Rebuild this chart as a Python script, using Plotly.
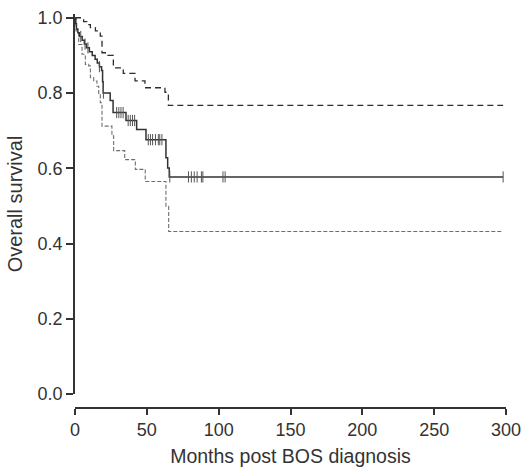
import numpy as np
import plotly.graph_objects as go

# Kaplan-Meier estimate (solid)
solid_t = [0, 0.5, 1, 2, 3, 5, 6.5, 8, 10, 12, 14, 15.5, 17, 18.5, 19.2, 19.6, 24.5, 26.5, 35.5, 42.9, 49.4, 63.3, 64.5, 65.6, 298]
solid_s = [1.0, 0.985, 0.97, 0.96, 0.95, 0.94, 0.93, 0.92, 0.91, 0.90, 0.89, 0.88, 0.87, 0.86, 0.83, 0.80, 0.78, 0.748, 0.727, 0.703, 0.676, 0.628, 0.601, 0.577, 0.577]

# Upper confidence limit (dashed)
upper_t = [0, 6, 8.3, 10.7, 14.2, 17.6, 18.8, 22.3, 26.7, 33.6, 41.8, 48.7, 62.6, 65, 298]
upper_s = [1.0, 0.99, 0.982, 0.974, 0.965, 0.951, 0.907, 0.90, 0.867, 0.852, 0.832, 0.814, 0.802, 0.767, 0.767]

# Lower confidence limit (dashed)
lower_t = [0, 0.7, 2.6, 4.9, 7.2, 9.5, 10.7, 13, 15.3, 16.5, 17.6, 18.8, 25.7, 26.9, 34.6, 42, 48.9, 63.3, 65.2, 298]
lower_s = [1.0, 0.965, 0.929, 0.903, 0.876, 0.872, 0.841, 0.832, 0.818, 0.796, 0.774, 0.712, 0.686, 0.647, 0.623, 0.597, 0.565, 0.499, 0.432, 0.432]

# Censoring times
cens_t = [4, 7, 9, 17, 19.8, 29, 30.5, 32, 33.5, 37, 38.5, 40, 41.5, 51, 52.5, 54, 56, 58, 59, 60.5,
          66, 79, 81, 83, 85, 88, 89, 103, 104.5, 298]

x_ticks = [0, 50, 100, 150, 200, 250, 300]
y_ticks = [0.0, 0.2, 0.4, 0.6, 0.8, 1.0]
y_tick_labels = ["0.0", "0.2", "0.4", "0.6", "0.8", "1.0"]

# survival at censor times from step function
st = np.array(solid_t)
ss = np.array(solid_s)
idx = np.searchsorted(st, np.array(cens_t), side="right") - 1
cens_s = ss[idx]

fig = go.Figure()
fig.add_trace(go.Scatter(x=lower_t, y=lower_s, mode="lines", line_shape="hv",
                         line=dict(color="#6e6e6e", width=1.1, dash="4px,2px"), cliponaxis=False))
fig.add_trace(go.Scatter(x=upper_t, y=upper_s, mode="lines", line_shape="hv",
                         line=dict(color="#2e2e2e", width=1.3, dash="6px,4px"), cliponaxis=False))
fig.add_trace(go.Scatter(x=solid_t, y=solid_s, mode="lines", line_shape="hv",
                         line=dict(color="#333333", width=1.5), cliponaxis=False))
fig.add_trace(go.Scatter(x=cens_t, y=cens_s, mode="markers",
                         marker=dict(symbol="line-ns", size=8, line=dict(color="#555555", width=1)),
                         cliponaxis=False))

font = dict(family="Liberation Sans, Arial, Helvetica, sans-serif", size=18, color="#333333")

fig.update_layout(
    width=530, height=469,
    margin=dict(l=75, r=24, t=14, b=61),
    paper_bgcolor="white", plot_bgcolor="white",
    showlegend=False,
    font=font,
    xaxis=dict(range=[0, 300], tickvals=x_ticks, anchor="free", position=0,
               automargin=False,
               showline=True, linecolor="#333333", linewidth=1.5,
               ticks="outside", ticklen=6, tickwidth=1.5, tickcolor="#333333",
               tickfont=dict(size=18),
               showgrid=False, zeroline=False,
               title=dict(text="Months post BOS diagnosis", standoff=9, font=dict(size=19.5))),
    yaxis=dict(range=[0, 1.01], domain=[0.0355, 1], tickvals=y_ticks, ticktext=y_tick_labels,
               automargin=False,
               showline=True, linecolor="#333333", linewidth=1.5,
               ticks="outside", ticklen=7, tickwidth=1.5, tickcolor="#333333",
               tickfont=dict(size=18),
               showgrid=False, zeroline=False,
               title=dict(text="Overall survival", standoff=10, font=dict(size=20))),
)

fig.write_html("out.html", config={"displayModeBar": False},
               post_script="document.body.style.margin='0';document.body.style.padding='0';")
